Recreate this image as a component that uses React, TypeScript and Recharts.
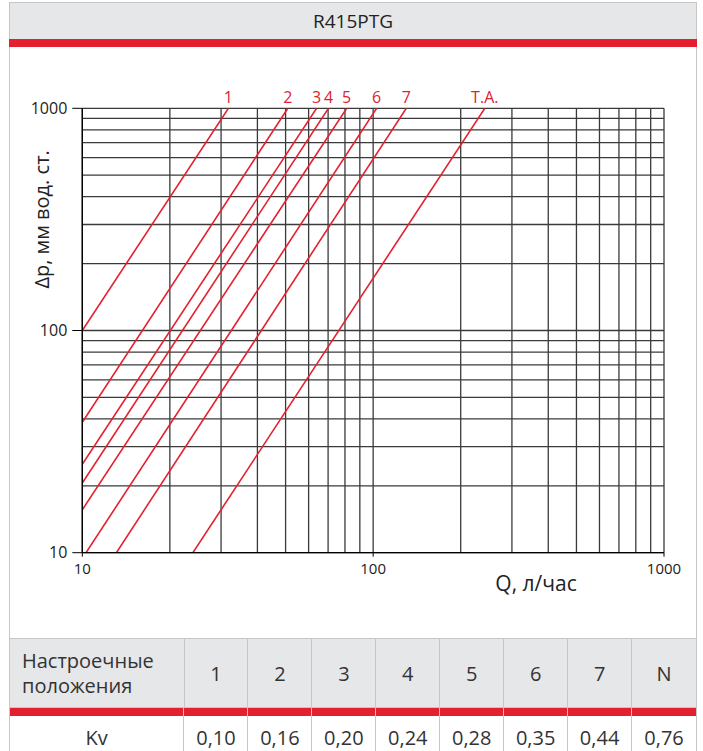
import { LineChart, Line, XAxis, YAxis, ReferenceLine } from 'recharts';

const RED = '#e3202f';
const GRAY_BG = '#e6e7e9';
const BORDER = '#c6c6c6';
const FONT = '"Open Sans", "Noto Sans", sans-serif';

// grid every unit inside each decade
const GRID_X = [10, 20, 30, 40, 50, 60, 70, 80, 90, 100, 200, 300, 400, 500, 600, 700, 800, 900, 1000];
const GRID_Y = [10, 20, 30, 40, 50, 60, 70, 80, 90, 100, 200, 300, 400, 500, 600, 700, 800, 900, 1000];
const AXIS_TICKS = [10, 100, 1000];

// curve endpoints (Q l/h, dp mm w.c.)
const CURVES = ['1', '2', '3', '4', '5', '6', '7', 'T.A.'];
const Q_START = [10, 10, 10, 10, 10, 10.3, 13.1, 24];
const DP_START = [100, 38.6, 25, 20.6, 15.6, 10, 10, 10];
const Q_END = [31.8, 50.9, 63.9, 70.2, 81.1, 102.8, 130, 242];
const DP_END = [1000, 1000, 1000, 1000, 1000, 1000, 1000, 1000];

const SETTINGS = ['1', '2', '3', '4', '5', '6', '7', 'N'];
const KV = ['0,10', '0,16', '0,20', '0,24', '0,28', '0,35', '0,44', '0,76'];

const series = CURVES.map((name, i) => ({
  name,
  data: [
    { q: Q_START[i], dp: DP_START[i] },
    { q: Q_END[i], dp: DP_END[i] },
  ],
}));

const FIRST_COL = 175;
const COL_W = 513 / 8;

function EndLabel(props: any, name: string) {
  if (props.index !== 1) return <g />;
  return (
    <text x={props.x} y={props.y - 5} textAnchor="middle" fill={RED} fontSize={16} fontFamily={FONT}>
      {name}
    </text>
  );
}

function Row({ first, cells, bg, height, firstAlign }: { first: React.ReactNode; cells: string[]; bg: string; height: number; firstAlign: 'left' | 'center' }) {
  return (
    <div style={{ display: 'flex', height, background: bg }}>
      <div
        style={{
          width: FIRST_COL,
          boxSizing: 'border-box',
          borderRight: `1px solid ${BORDER}`,
          display: 'flex',
          alignItems: 'center',
          justifyContent: firstAlign === 'left' ? 'flex-start' : 'center',
          paddingLeft: firstAlign === 'left' ? 12 : 0,
          lineHeight: '25px',
        }}
      >
        {first}
      </div>
      {cells.map((c, i) => (
        <div
          key={i}
          style={{
            width: COL_W,
            boxSizing: 'border-box',
            borderRight: i < cells.length - 1 ? `1px solid ${BORDER}` : 'none',
            display: 'flex',
            alignItems: 'center',
            justifyContent: 'center',
          }}
        >
          {c}
        </div>
      ))}
    </div>
  );
}

export default function App() {
  return (
    <div style={{ position: 'absolute', left: 0, top: 0, width: 703, height: 751, background: '#fff', overflow: 'hidden', fontFamily: FONT, color: '#333' }}>
      {/* title */}
      <div
        style={{
          position: 'absolute', left: 9, top: 2, width: 688, height: 37, boxSizing: 'border-box',
          background: GRAY_BG, borderTop: `1px solid ${BORDER}`, borderLeft: `1px solid ${BORDER}`, borderRight: `1px solid ${BORDER}`,
          display: 'flex', alignItems: 'center', justifyContent: 'center', fontSize: 19, color: '#222',
        }}
      >
        R415PTG
      </div>
      <div style={{ position: 'absolute', left: 9, top: 39, width: 688, height: 8, background: RED }} />
      {/* chart frame */}
      <div
        style={{
          position: 'absolute', left: 9, top: 47, width: 688, height: 591, boxSizing: 'border-box',
          borderLeft: `1px solid ${BORDER}`, borderRight: `1px solid ${BORDER}`,
        }}
      />
      <div style={{ position: 'absolute', left: 0, top: 0 }}>
        <LineChart width={703} height={640} margin={{ top: 108.3, right: 39, bottom: 57.3, left: 10.3 }}>
          <XAxis
            dataKey="q"
            type="number"
            scale="log"
            domain={[10, 1000]}
            allowDataOverflow
            ticks={AXIS_TICKS}
            height={30}
            tickSize={4}
            tickMargin={7}
            axisLine={{ stroke: '#000', strokeWidth: 1.3 }}
            tickLine={{ stroke: '#000' }}
            tick={{ fontSize: 15, fill: '#222', fontFamily: FONT }}
            label={{
              content: (p: any) => (
                <text x={p.viewBox.x + p.viewBox.width * 0.78} y={p.viewBox.y + 38} textAnchor="middle" fontSize={21} fill="#222" fontFamily={FONT}>
                  Q, л/час
                </text>
              ),
            }}
          />
          <YAxis
            dataKey="dp"
            type="number"
            scale="log"
            domain={[10, 1000]}
            allowDataOverflow
            ticks={AXIS_TICKS}
            width={72}
            tickSize={10}
            tickMargin={5}
            axisLine={{ stroke: '#000', strokeWidth: 1.3 }}
            tickLine={{ stroke: '#000' }}
            tick={{ fontSize: 16, fill: '#222', fontFamily: FONT }}
            label={{
              content: (p: any) => {
                const cx = 42;
                const cy = p.viewBox.y + p.viewBox.height * 0.25;
                return (
                  <text x={cx} y={cy} transform={`rotate(-90 ${cx} ${cy})`} textAnchor="middle" dominantBaseline="central" fontSize={20} fill="#222" fontFamily={FONT}>
                    Δp, мм вод. ст.
                  </text>
                );
              },
            }}
          />
          {GRID_X.map((v) => (
            <ReferenceLine key={`gx${v}`} x={v} stroke="#3a3a3a" strokeWidth={1.3} />
          ))}
          {GRID_Y.map((v) => (
            <ReferenceLine key={`gy${v}`} y={v} stroke="#3a3a3a" strokeWidth={1.3} />
          ))}
          {series.map((s) => (
            <Line
              key={s.name}
              data={s.data}
              dataKey="dp"
              type="linear"
              stroke={RED}
              strokeWidth={1.6}
              dot={false}
              isAnimationActive={false}
              label={(p: any) => EndLabel(p, s.name)}
            />
          ))}
        </LineChart>
      </div>
      {/* settings table */}
      <div style={{ position: 'absolute', left: 9, top: 638, width: 688, boxSizing: 'border-box', border: `1px solid ${BORDER}`, borderBottom: 'none', fontSize: 20 }}>
        <Row
          first={<span>Настроечные<br />положения</span>}
          cells={SETTINGS}
          bg={GRAY_BG}
          height={68}
          firstAlign="left"
        />
        <div style={{ display: 'flex', height: 8, background: RED, borderTop: `1px solid ${BORDER}` }}>
          <div style={{ width: FIRST_COL, borderRight: `1px solid ${BORDER}`, boxSizing: 'border-box' }} />
          {SETTINGS.map((_, i) => (
            <div key={i} style={{ width: COL_W, boxSizing: 'border-box', borderRight: i < 7 ? `1px solid ${BORDER}` : 'none' }} />
          ))}
        </div>
        <Row first="Kv" cells={KV} bg="#fff" height={42} firstAlign="center" />
      </div>
    </div>
  );
}
